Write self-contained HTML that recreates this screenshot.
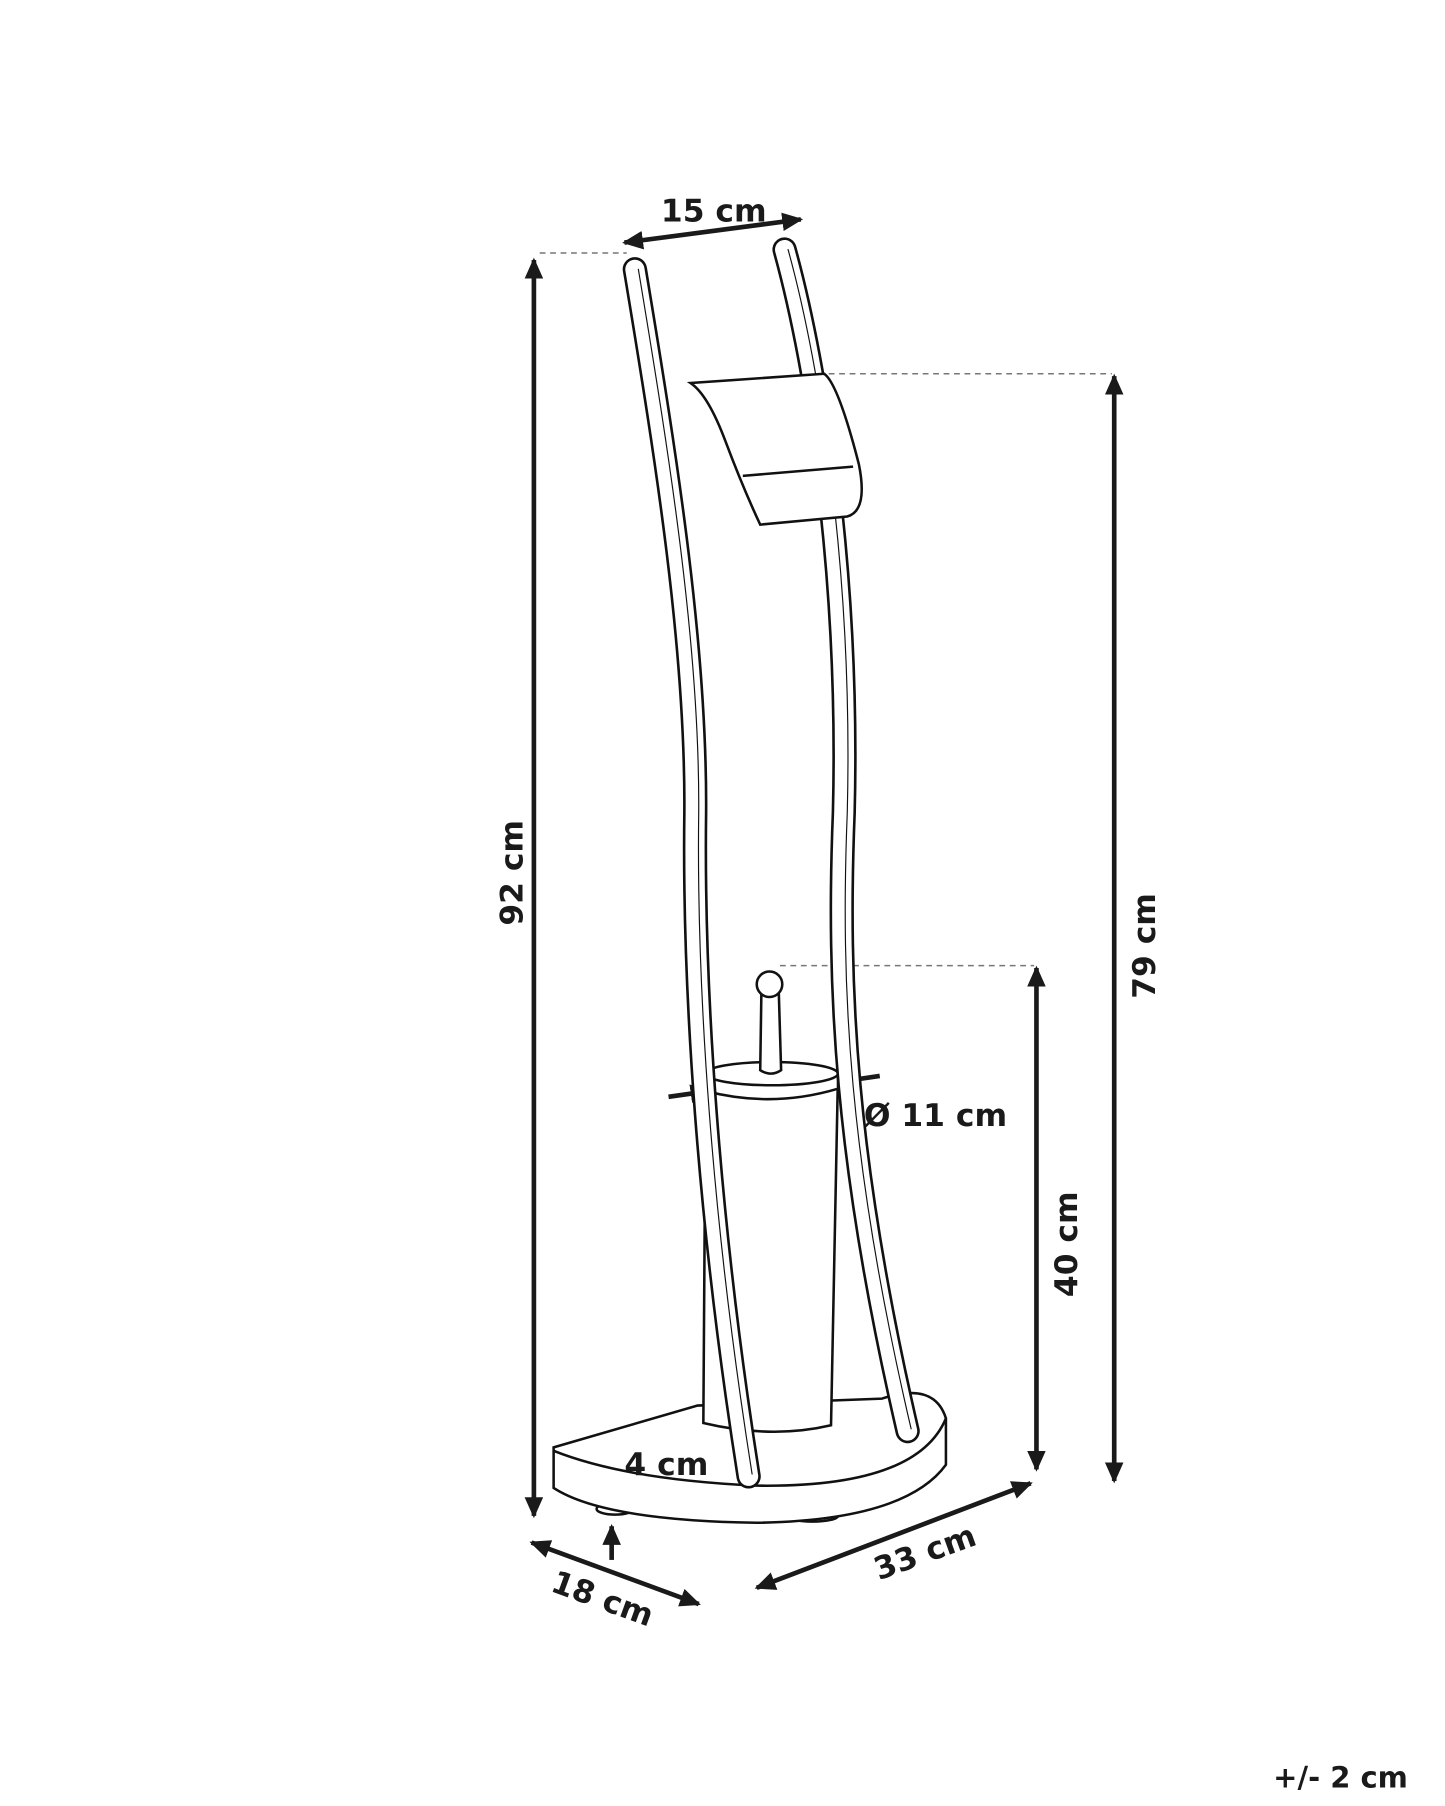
<!DOCTYPE html>
<html><head><meta charset="utf-8"><style>
html,body{margin:0;padding:0;background:#fff;}
svg{display:block;}
text{font-family:"DejaVu Sans","Liberation Sans",sans-serif;font-weight:bold;fill:#1a1a1a;}
</style></head><body>
<svg width="1445" height="1806" viewBox="0 0 1245 1556" xmlns="http://www.w3.org/2000/svg">
<defs>
<marker id="a" markerWidth="18" markerHeight="16" refX="16" refY="8" orient="auto-start-reverse" markerUnits="userSpaceOnUse" viewBox="0 0 18 16">
<path d="M0,0 L18,8 L0,16 z" fill="#1a1a1a"/></marker>
</defs>
<g fill="none" stroke="#1a1a1a" stroke-width="4">
<line x1="460" y1="224" x2="460" y2="1306" marker-start="url(#a)" marker-end="url(#a)"/>
<line x1="960" y1="324" x2="960" y2="1276" marker-start="url(#a)" marker-end="url(#a)"/>
<line x1="893" y1="834" x2="893" y2="1266" marker-start="url(#a)" marker-end="url(#a)"/>
<line x1="538" y1="209" x2="690" y2="189" marker-start="url(#a)" marker-end="url(#a)"/>
<line x1="652" y1="1368" x2="888" y2="1278" marker-start="url(#a)" marker-end="url(#a)"/>
<line x1="458" y1="1329" x2="602" y2="1382" marker-start="url(#a)" marker-end="url(#a)"/>
<line x1="527" y1="1244" x2="527" y2="1275" marker-end="url(#a)"/>
<line x1="527" y1="1344" x2="527" y2="1315" marker-end="url(#a)"/>
<line x1="576" y1="945" x2="611" y2="940" marker-end="url(#a)"/>
<line x1="758" y1="927" x2="724" y2="932" marker-end="url(#a)"/>
</g>
<g stroke="#777" stroke-width="1.3" stroke-dasharray="5,4" fill="none">
<line x1="465" y1="218" x2="540" y2="218"/>
<line x1="705" y1="322" x2="958" y2="322"/>
<line x1="672" y1="832" x2="891" y2="832"/>
</g>
<g fill="#fff" stroke="#111" stroke-width="2.2">
<!-- base -->
<ellipse cx="530" cy="1300" rx="16" ry="5"/>
<ellipse cx="700" cy="1306" rx="22" ry="5"/>
<path d="M477,1250 L477,1282 Q520,1310 652,1312 Q780,1310 815,1262 L815,1222 Q805,1190 760,1205 L601,1211 L477,1247 Z"/>
<path d="M477,1250 Q540,1275 652,1280 Q790,1282 815,1222" fill="none"/>
<!-- brush -->
<path d="M608,925 L722,925 L716,1228 Q665,1240 606,1226 Z"/>
<path d="M608,925 L608,940 Q665,955 722,938 L722,925" />
<ellipse cx="665" cy="925" rx="57" ry="10"/>
<path d="M655,922 L656,855 Q663,848 671,855 L673,922 Q664,928 655,922 Z"/>
<circle cx="663" cy="848" r="11"/>
</g>
<!-- bars -->
<g fill="none" stroke-linecap="round">
<path d="M547,232 C575,400 600,560 599,700 C597,850 610,1050 645,1272" stroke="#111" stroke-width="21"/>
<path d="M547,232 C575,400 600,560 599,700 C597,850 610,1050 645,1272" stroke="#fff" stroke-width="16.5"/>
<path d="M550,232 C578,400 603,560 602,700 C600,850 613,1050 648,1270" stroke="#111" stroke-width="1"/>
<path d="M676,215 C705,320 732,500 727,700 C721,850 728,1000 782,1233" stroke="#111" stroke-width="21"/>
<path d="M676,215 C705,320 732,500 727,700 C721,850 728,1000 782,1233" stroke="#fff" stroke-width="16.5"/>
<path d="M679,215 C708,320 735,500 730,700 C724,850 731,1000 785,1231" stroke="#111" stroke-width="1"/>
</g>
<g fill="#fff" stroke="#111" stroke-width="2.2">
<path d="M595,330 L710,322 Q722,330 740,400 Q748,440 730,445 L655,452 Q640,420 625,380 Q610,340 595,330 Z"/>
<line x1="640" y1="410" x2="735" y2="402"/>
</g>
<g font-size="27">
<text x="615" y="191" text-anchor="middle">15 cm</text>
<text x="806" y="970" text-anchor="middle">Ø 11 cm</text>
<text x="538" y="1271">4 cm</text>
<text x="1155" y="1540" text-anchor="middle" font-size="25">+/- 2 cm</text>
<text transform="translate(450,752) rotate(-90)" text-anchor="middle">92 cm</text>
<text transform="translate(995,815) rotate(-90)" text-anchor="middle">79 cm</text>
<text transform="translate(928,1072) rotate(-90)" text-anchor="middle">40 cm</text>
<text transform="translate(800,1346) rotate(-20)" text-anchor="middle">33 cm</text>
<text transform="translate(516,1386) rotate(20)" text-anchor="middle">18 cm</text>
</g>
</svg>
</body></html>
